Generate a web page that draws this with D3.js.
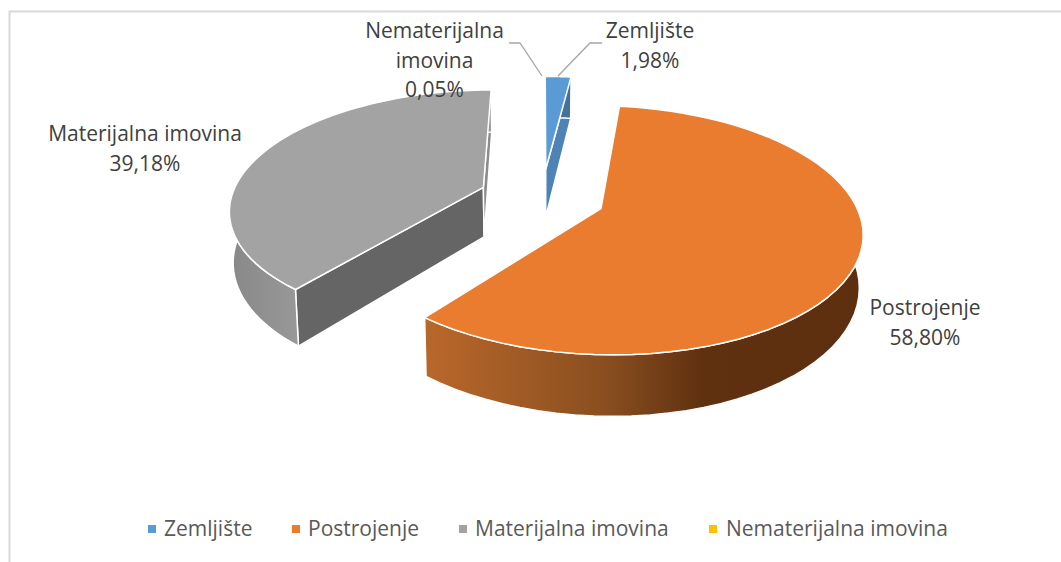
<!doctype html>
<html>
<head>
<meta charset="utf-8">
<script src="https://cdnjs.cloudflare.com/ajax/libs/d3/7.8.5/d3.min.js"></script>
<style>
  html, body { margin: 0; padding: 0; background: #fff; }
  svg { display: block; }
  text { font-family: "Open Sans", sans-serif; }
</style>
</head>
<body>
<svg id="chart" width="1061" height="562"></svg>
<script>
// values
var categories = ["Zemljište", "Postrojenje", "Materijalna imovina", "Nematerijalna imovina"];
var shares = [1.98, 58.80, 39.18, 0.05];
var shareLabels = ["1,98%", "58,80%", "39,18%", "0,05%"];
var colors = ["#5b9bd5", "#ea7c30", "#a3a3a3", "#ffc000"];

var svg = d3.select("#chart");
var defs = svg.append("defs");

// frame, the right side is cut off in the picture
svg.append("path")
    .attr("d", "M9.5,562V11.5H1061")
    .attr("fill", "none")
    .attr("stroke", "#d9d9d9")
    .attr("stroke-width", 2);

// 3d pie: the plane is drawn in perspective, 1 = pie radius
var vx = 542, vy = 197, ax = 252, ay = 117, persp = 0.17, depth = 50, explode = 0.25;
var lean = 0.012; // the walls lean inward a little going down

function project(x, y, z) {
    var s = 1 / (1 - persp * y);
    return [vx + ax * x * s * (1 - lean * z / depth), vy + (ay * y + z) * s];
}

var pie = d3.pie().sort(null).value(function(d) { return d; });
var line = d3.line();
var slices = pie(shares);

slices.forEach(function(d, i) {
    var mid = (d.startAngle + d.endAngle) / 2;
    d.ox = explode * Math.sin(mid);
    d.oy = -explode * Math.cos(mid);
    d.arc = d3.range(0, 61).map(function(k) { return d.startAngle + (d.endAngle - d.startAngle) * k / 60; });
    d.color = colors[i];
});

function rim(d, z) {
    return d.arc.map(function(t) {
        return project(d.ox + Math.sin(t), d.oy - Math.cos(t), z);
    });
}

function radialFace(d, t) {
    return [
        project(d.ox, d.oy, 0),
        project(d.ox + Math.sin(t), d.oy - Math.cos(t), 0),
        project(d.ox + Math.sin(t), d.oy - Math.cos(t), depth),
        project(d.ox, d.oy, depth)
    ];
}

function shade(c, f) {
    var r = d3.rgb(c);
    return d3.rgb(r.r * f, r.g * f, r.b * f).formatHex();
}

// wall gradients
function wallGradient(id, x1, x2, stops) {
    var g = defs.append("linearGradient").attr("id", id)
        .attr("gradientUnits", "userSpaceOnUse")
        .attr("x1", x1).attr("x2", x2).attr("y1", 0).attr("y2", 0);
    stops.forEach(function(s) {
        g.append("stop").attr("offset", s[0]).attr("stop-color", s[1]);
    });
}
wallGradient("wall0", 540, 580, [[0, shade(colors[0], 0.8)], [1, shade(colors[0], 0.7)]]);
wallGradient("wall1", 430, 862, [[0, "#b8672a"], [0.4, "#8a4f20"], [0.63, "#60310f"], [1, "#5e2f0f"]]);
wallGradient("wall2", 233, 302, [[0, shade(colors[2], 0.84)], [1, shade(colors[2], 0.94)]]);
wallGradient("wall3", 540, 550, [[0, shade(colors[3], 0.8)], [1, shade(colors[3], 0.7)]]);

var pieG = svg.append("g").attr("stroke", "#fff").attr("stroke-width", 1.5).attr("stroke-linejoin", "round");

slices.forEach(function(d, i) {
    var g = pieG.append("g");
    g.append("path")
        .attr("d", line(radialFace(d, d.startAngle)) + "Z")
        .attr("fill", shade(d.color, 0.62));
    g.append("path")
        .attr("d", line(radialFace(d, d.endAngle)) + "Z")
        .attr("fill", shade(d.color, 0.85));
    g.append("path")
        .attr("d", line(rim(d, 0).concat(rim(d, depth).reverse())) + "Z")
        .attr("fill", "url(#wall" + i + ")");
    g.append("path")
        .attr("d", line([project(d.ox, d.oy, 0)].concat(rim(d, 0))) + "Z")
        .attr("fill", d.color);
});

// leader lines
var leaders = svg.append("g").attr("fill", "none").attr("stroke", "#a6a6a6").attr("stroke-width", 1.3);
leaders.append("path").attr("d", "M509,43H520L542,76");
leaders.append("path").attr("d", "M602,43H590L558,76");

// data labels
var labelLayout = [
    { i: 0, x: 650, y: 38, lines: ["Zemljište"] },
    { i: 1, x: 925, y: 315, lines: ["Postrojenje"] },
    { i: 2, x: 145, y: 141, lines: ["Materijalna imovina"] },
    { i: 3, x: 434.5, y: 38, lines: ["Nematerijalna", "imovina"] }
];

var labels = svg.append("g")
    .attr("font-size", 21)
    .attr("fill", "#404040")
    .attr("text-anchor", "middle");

labelLayout.forEach(function(l) {
    var rows = l.lines.concat([shareLabels[l.i]]);
    rows.forEach(function(t, k) {
        labels.append("text").attr("x", l.x).attr("y", l.y + k * 29.7).text(t);
    });
});

// legend
var legendX = [148, 292, 459, 709];
var legendText = [164, 308, 475, 726];
var legend = svg.append("g").attr("font-size", 21).attr("fill", "#595959");
categories.forEach(function(c, i) {
    legend.append("rect")
        .attr("x", legendX[i]).attr("y", 525)
        .attr("width", 8).attr("height", 8)
        .attr("fill", colors[i]);
    legend.append("text").attr("x", legendText[i]).attr("y", 536).text(c);
});
</script>
</body>
</html>
